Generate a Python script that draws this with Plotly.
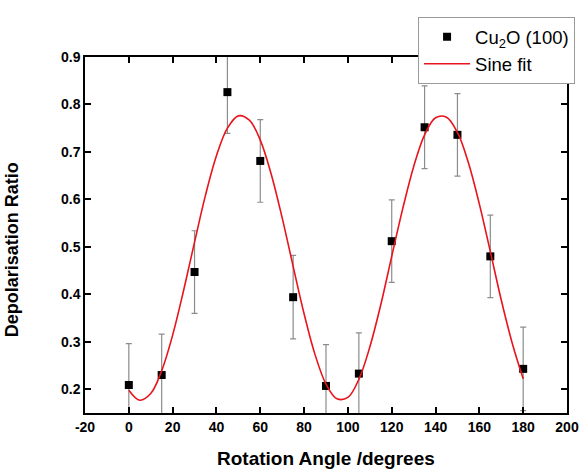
import plotly.graph_objects as go

# Measured depolarisation ratio vs rotation angle
angle = [0, 15, 30, 45, 60, 75, 90, 105, 120, 135, 150, 165, 180]
ratio = [0.209, 0.230, 0.447, 0.826, 0.681, 0.394, 0.207, 0.233, 0.512, 0.752, 0.736, 0.480, 0.243]
ratio_err = [0.087, 0.086, 0.087, 0.087, 0.087, 0.088, 0.087, 0.086, 0.087, 0.087, 0.087, 0.087, 0.088]

# Sine fit curve sampled every 5 degrees
fit_angle = [0, 5, 10, 15, 20, 25, 30, 35, 40, 45, 50, 55, 60, 65, 70, 75, 80, 85, 90,
             95, 100, 105, 110, 115, 120, 125, 130, 135, 140, 145, 150, 155, 160, 165,
             170, 175, 180]
fit_ratio = [0.198, 0.177, 0.191, 0.239, 0.314, 0.408, 0.510, 0.609, 0.692, 0.750,
             0.776, 0.767, 0.725, 0.653, 0.561, 0.459, 0.359, 0.273, 0.211, 0.180,
             0.183, 0.221, 0.289, 0.378, 0.480, 0.580, 0.669, 0.736, 0.772, 0.773,
             0.741, 0.677, 0.590, 0.490, 0.388, 0.297, 0.222]

x_ticks = [-20, 0, 20, 40, 60, 80, 100, 120, 140, 160, 180, 200]
y_ticks = [0.2, 0.3, 0.4, 0.5, 0.6, 0.7, 0.8, 0.9]

FONT = "Liberation Sans, Arial, sans-serif"

fig = go.Figure()
fig.add_trace(go.Scatter(
    x=angle, y=ratio, mode="markers", name="Cu<sub>2</sub>O (100)",
    marker=dict(symbol="square", size=8, color="black"),
    error_y=dict(type="data", array=ratio_err, color="#8c8c8c", thickness=1.2, width=3),
))
fig.add_trace(go.Scatter(
    x=fit_angle, y=fit_ratio, mode="lines", name="Sine fit",
    line=dict(color="#e8141c", width=1.6, shape="spline", smoothing=1.0),
))

axis_common = dict(
    showline=True, linecolor="black", linewidth=1.5, mirror="allticks",
    ticks="inside", ticklen=6, tickwidth=1.5, tickcolor="black",
    showgrid=False, zeroline=False, automargin=False,
    tickfont=dict(family=FONT, size=14, color="black", weight="bold"),
)

fig.update_xaxes(
    range=[-20, 200], tickmode="array", tickvals=x_ticks,
    ticktext=[str(v) for v in x_ticks],
    **axis_common,
)
fig.update_yaxes(
    range=[0.15, 0.9], tickmode="array", tickvals=y_ticks,
    ticktext=[f"{v:.1f}" for v in y_ticks],
    **axis_common,
)

# Axis titles as annotations for precise placement
fig.add_annotation(
    text="Rotation Angle /degrees",
    xref="paper", yref="paper", x=0.5, y=-0.129,
    xanchor="center", yanchor="middle", showarrow=False,
    font=dict(family=FONT, size=19, color="black", weight="bold"),
)
fig.add_annotation(
    text="Depolarisation Ratio", textangle=-90,
    xref="paper", yref="paper", x=-0.151, y=0.458,
    xanchor="center", yanchor="middle", showarrow=False,
    font=dict(family=FONT, size=18, color="black", weight="bold"),
)

fig.update_layout(
    width=588, height=470,
    margin=dict(l=85, r=21, t=57, b=57),
    paper_bgcolor="white", plot_bgcolor="white",
    showlegend=True,
    legend=dict(
        x=0.691, y=1.112, xanchor="left", yanchor="top",
        bgcolor="white", bordercolor="#9a9a9a", borderwidth=1,
        font=dict(family=FONT, size=18.5, color="black"),
        itemwidth=46, tracegroupgap=0,
    ),
)

fig.write_html("out.html")
